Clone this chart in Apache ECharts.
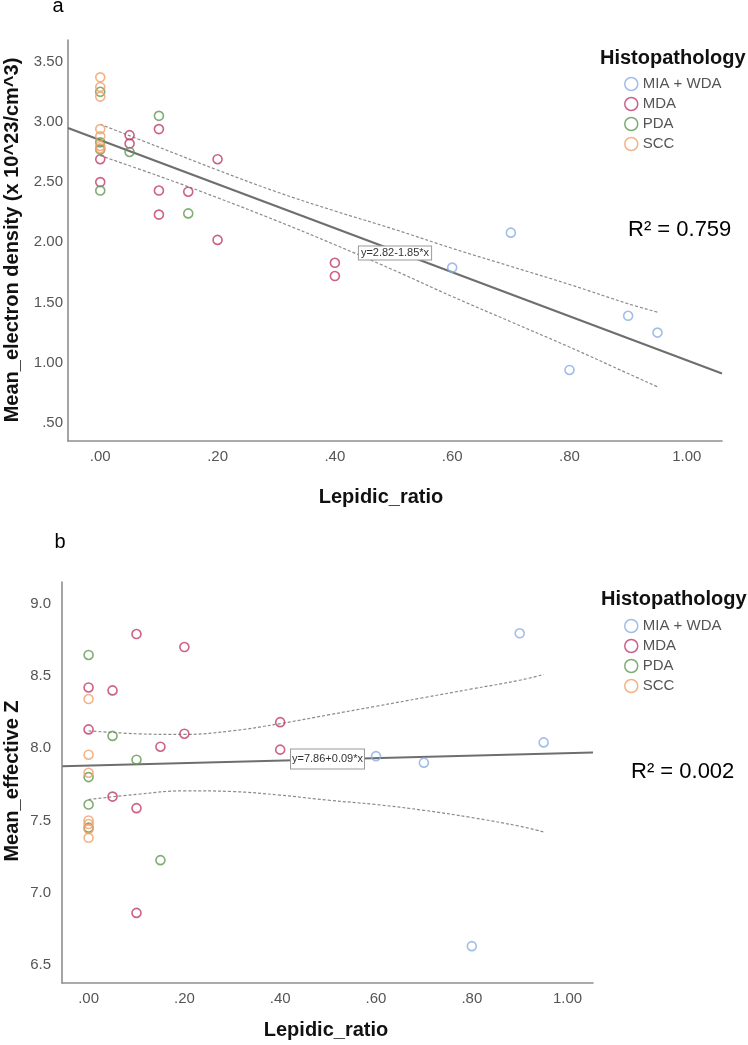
<!DOCTYPE html>
<html><head><meta charset="utf-8">
<script src="https://cdn.jsdelivr.net/npm/echarts@6/dist/echarts.min.js"></script>
<style>html,body{margin:0;padding:0;background:#fff}#c{width:748px;height:1045px}</style>
</head><body><div id="c"></div>
<script>
// ---------- data ----------
const groups = ['MIA + WDA', 'MDA', 'PDA', 'SCC'];
const groupColors = ['#8aaee0', '#c03a6c', '#5f9852', '#f0a06c'];

// Panel a: Lepidic_ratio vs Mean_electron density
const aMIA = [[0.60,1.79],[0.70,2.08],[0.80,0.94],[0.90,1.39],[0.95,1.25]];
const aMDA = [[0,2.69],[0,2.50],[0.05,2.89],[0.05,2.82],[0.10,2.94],[0.10,2.43],[0.10,2.23],[0.15,2.42],[0.20,2.69],[0.20,2.02],[0.40,1.83],[0.40,1.72]];
const aPDA = [[0,3.25],[0,2.83],[0,2.77],[0,2.43],[0.05,2.75],[0.10,3.05],[0.15,2.24]];
const aSCC = [[0,3.37],[0,3.29],[0,3.21],[0,2.94],[0,2.88],[0,2.80],[0,2.78]];
const aFit = [[-0.055,2.95],[1.06,0.91]];
const bandX = [0,0.1,0.2,0.3,0.4,0.5,0.6,0.7,0.8,0.9,0.95];
const aUpper = [2.98,2.79,2.60,2.42,2.26,2.11,1.95,1.80,1.65,1.49,1.42];
const aLower = [2.72,2.55,2.37,2.18,1.98,1.77,1.55,1.34,1.13,0.91,0.80];

// Panel b: Lepidic_ratio vs Mean_effective Z
const bMIA = [[0.60,7.945],[0.70,7.90],[0.80,6.63],[0.90,8.795],[0.95,8.04]];
const bMDA = [[0,8.42],[0,8.13],[0.05,8.40],[0.05,7.665],[0.10,8.79],[0.10,7.585],[0.10,6.86],[0.15,8.01],[0.20,8.70],[0.20,8.10],[0.40,8.18],[0.40,7.99]];
const bPDA = [[0,8.645],[0,7.80],[0,7.61],[0,7.45],[0.05,8.085],[0.10,7.92],[0.15,7.225]];
const bSCC = [[0,8.34],[0,7.955],[0,7.83],[0,7.50],[0,7.475],[0,7.44],[0,7.38]];
const bFit = [[-0.055,7.875],[1.053,7.97]];
const bUpper = [8.12,8.10,8.095,8.12,8.17,8.23,8.29,8.35,8.41,8.47,8.51];
const bLower = [7.645,7.68,7.705,7.70,7.675,7.64,7.61,7.57,7.52,7.46,7.42];

const xTicks = [0,0.2,0.4,0.6,0.8,1.0];
const yTicksA = [0.5,1.0,1.5,2.0,2.5,3.0,3.5];
const yTicksB = [6.5,7.0,7.5,8.0,8.5,9.0];

const eqA = 'y=2.82-1.85*x', eqB = 'y=7.86+0.09*x';
const r2A = 'R\u00b2 = 0.759', r2B = 'R\u00b2 = 0.002';
const xTitle = 'Lepidic_ratio';
const yTitleA = 'Mean_electron density (x 10^23/cm^3)';
const yTitleB = 'Mean_effective Z';
const legendTitle = 'Histopathology';

// ---------- chart ----------
const FF = '"Liberation Sans", Arial, sans-serif';
const stripZero = (s) => s.startsWith('0') ? s.slice(1) : s;
const fmt2 = (v) => stripZero(Number(v).toFixed(2));
const fmt1 = (v) => Number(v).toFixed(1);
const axisLineStyle = { color: '#8f8f8f', width: 1.6 };

function xAxisCfg(idx, min, max) {
  return {
    type: 'value', gridIndex: idx, min: min, max: max,
    axisLine: { show: true, onZero: false, lineStyle: axisLineStyle },
    axisTick: { show: false },
    splitLine: { show: false },
    axisLabel: { customValues: xTicks, formatter: fmt2, color: '#555', fontSize: 15, fontFamily: FF, margin: 8 }
  };
}
function yAxisCfg(idx, min, max, ticks, f, margin) {
  return {
    type: 'value', gridIndex: idx, min: min, max: max,
    axisLine: { show: true, onZero: false, lineStyle: axisLineStyle },
    axisTick: { show: false },
    splitLine: { show: false },
    axisLabel: { customValues: ticks, formatter: f, color: '#555', fontSize: 15, fontFamily: FF, margin: margin }
  };
}
function scatter(name, data, gi, col) {
  return {
    type: 'scatter', name: name, data: data, xAxisIndex: gi, yAxisIndex: gi,
    symbol: 'circle', symbolSize: 9, z: 5,
    itemStyle: { color: 'rgba(255,255,255,0)', borderColor: col, borderWidth: 1.6 },
    emphasis: { disabled: true }
  };
}
function fitLine(data, gi) {
  return {
    type: 'line', data: data, xAxisIndex: gi, yAxisIndex: gi, symbol: 'none', z: 3,
    lineStyle: { color: '#6e6e6e', width: 2.2 }, emphasis: { disabled: true }, silent: true
  };
}
function band(vals, gi) {
  return {
    type: 'line', data: bandX.map((x, i) => [x, vals[i]]), xAxisIndex: gi, yAxisIndex: gi,
    symbol: 'none', smooth: 0.4, z: 2,
    lineStyle: { color: '#8c8c8c', width: 1.2, type: [3, 2] }, emphasis: { disabled: true }, silent: true
  };
}

const aSets = [aMIA, aMDA, aPDA, aSCC];
const bSets = [bMIA, bMDA, bPDA, bSCC];
const series = [];
groups.forEach((g, i) => series.push(scatter(g, aSets[i], 0, groupColors[i])));
series.push(fitLine(aFit, 0), band(aUpper, 0), band(aLower, 0));
groups.forEach((g, i) => series.push(scatter(g, bSets[i], 1, groupColors[i])));
series.push(fitLine(bFit, 1), band(bUpper, 1), band(bLower, 1));

function legendCfg(top) {
  return {
    data: groups, orient: 'vertical', left: 624, top: top, padding: 0, itemGap: 0,
    itemWidth: 13, itemHeight: 13, icon: 'circle', selectedMode: false,
    itemStyle: { color: 'rgba(255,255,255,0)', borderWidth: 1.5 },
    textStyle: { color: '#555', fontSize: 15, fontFamily: FF, lineHeight: 20 }
  };
}
function txt(x, y, text, size, opts) {
  return Object.assign({
    type: 'text', x: x, y: y, silent: true,
    style: Object.assign({ text: text, fontSize: size, fontFamily: FF, fill: '#000',
      textAlign: 'left', textVerticalAlign: 'middle' }, (opts && opts.style) || {})
  }, opts && opts.el ? opts.el : {});
}

const option = {
  animation: false,
  backgroundColor: '#fff',
  grid: [
    { left: 68, top: 40, width: 654, height: 401 },
    { left: 62, top: 582, width: 531, height: 401 }
  ],
  xAxis: [xAxisCfg(0, -0.055, 1.06), xAxisCfg(1, -0.0555, 1.053)],
  yAxis: [yAxisCfg(0, 0.35, 3.68, yTicksA, fmt2, 5), yAxisCfg(1, 6.375, 9.15, yTicksB, fmt1, 11)],
  legend: [legendCfg(74), legendCfg(616)],
  series: series,
  graphic: [
    txt(58, 6, 'a', 20, { style: { textAlign: 'center' } }),
    txt(60, 542, 'b', 20, { style: { textAlign: 'center' } }),
    txt(600, 58, legendTitle, 20, { style: { fontWeight: 'bold', fill: '#111' } }),
    txt(601, 599, legendTitle, 20, { style: { fontWeight: 'bold', fill: '#111' } }),
    txt(628, 230, r2A, 22, {}),
    txt(631, 772, r2B, 22, {}),
    txt(381, 497, xTitle, 20, { style: { fontWeight: 'bold', textAlign: 'center', fill: '#111' } }),
    txt(326, 1030, xTitle, 20, { style: { fontWeight: 'bold', textAlign: 'center', fill: '#111' } }),
    txt(12, 240, yTitleA, 20, { style: { fontWeight: 'bold', textAlign: 'center', fill: '#111' }, el: { rotation: Math.PI / 2 } }),
    txt(12, 781, yTitleB, 20, { style: { fontWeight: 'bold', textAlign: 'center', fill: '#111' }, el: { rotation: Math.PI / 2 } }),
    txt(395, 253, eqA, 11, { style: { textAlign: 'center', fill: '#333', backgroundColor: '#fff', borderColor: '#999', borderWidth: 1, padding: [1, 2] }, el: { z: 10 } }),
    txt(327.5, 759, eqB, 11, { style: { textAlign: 'center', fill: '#333', backgroundColor: '#fff', borderColor: '#999', borderWidth: 1, padding: [4, 1] }, el: { z: 10 } })
  ]
};
const chart = echarts.init(document.getElementById('c'), null, { renderer: 'canvas' });
chart.setOption(option);
</script>
</body></html>
